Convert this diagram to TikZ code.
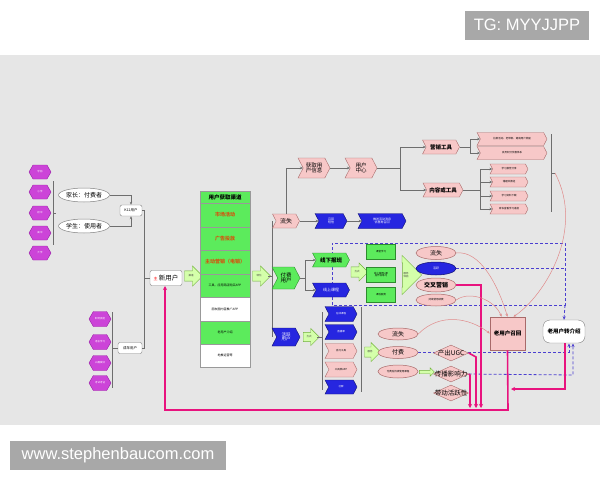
\documentclass[tikz,border=0pt]{standalone}
\usepackage{fontspec}
\setmainfont{Noto Sans CJK SC}
\newfontfamily\wmfont{Liberation Sans}
\usetikzlibrary{shapes.geometric,shapes.symbols,shapes.arrows,arrows.meta}
\pgfdeclarelayer{back}
\pgfdeclarelayer{under}
\pgfsetlayers{back,under,main}
\newcommand\myfs[1]{\fontsize{#1}{#1}\selectfont}
\definecolor{bg}{HTML}{E6E6E6}
\definecolor{mag}{HTML}{CC44D8}
\definecolor{magd}{HTML}{9A1FA6}
\definecolor{pinkf}{HTML}{F7C8C8}
\definecolor{pinkd}{HTML}{A86A6A}
\definecolor{bluef}{HTML}{2626E0}
\definecolor{blued}{HTML}{101070}
\definecolor{greenf}{HTML}{5CEB5C}
\definecolor{greend}{HTML}{2E8B2E}
\definecolor{lgreen}{HTML}{D4FFAA}
\definecolor{lgreend}{HTML}{6FAF3A}
\definecolor{hot}{HTML}{E8137E}
\definecolor{dashc}{HTML}{4B3FD0}
\definecolor{curvec}{HTML}{E08A8A}
\definecolor{oranget}{HTML}{D2560F}
\definecolor{wmgray}{HTML}{A8A8A8}
\definecolor{linec}{HTML}{6E6E6E}
\tikzset{
 hexa/.style={signal, signal to=east and west, signal pointer angle=120, fill=mag, draw=magd, line width=0.4pt, minimum width=22pt, minimum height=14pt, text=white, font=\myfs{2.5}},
 chev/.style={signal, signal from=west, signal to=east, signal pointer angle=125, line width=0.4pt},
 pchev/.style={chev, fill=pinkf, draw=pinkd, text=black},
 bchev/.style={chev, fill=bluef, draw=blued, text=white},
 gchev/.style={chev, fill=greenf, draw=greend, text=black},
 blk/.style={single arrow, fill=lgreen, draw=lgreend, line width=0.4pt, font=\myfs{2.5}, text=darkgray, inner xsep=0pt},
 wbox/.style={rectangle, rounded corners=2pt, draw=gray, fill=white, line width=0.4pt},
 pell/.style={ellipse, draw=pinkd, fill=pinkf, line width=0.5pt, minimum width=40pt, minimum height=13pt},
 wel/.style={ellipse, draw=gray, fill=white, line width=0.5pt, minimum width=48pt, minimum height=14pt, font=\myfs{6}},
 dia/.style={diamond, aspect=2.2, draw=pinkd, fill=pinkf, line width=0.4pt, minimum width=35pt, minimum height=16pt, label={[font=\myfs{6.5}, inner sep=0pt]center:#1}},
 gbox/.style={rectangle, draw=greend, fill=greenf, line width=0.6pt, minimum width=29pt, minimum height=15pt, font=\myfs{2.5}},
 colrow/.style={rectangle, draw=gray!80, line width=0.4pt, minimum width=50pt},
 conn/.style={draw=linec, line width=0.5pt},
 arr/.style={conn, -{Stealth[length=3pt,width=2.5pt]}},
 hotl/.style={draw=hot, line width=1.6pt},
 hota/.style={hotl, -{Stealth[length=4pt,width=4pt]}},
 dashl/.style={draw=dashc, line width=0.8pt, dash pattern=on 3pt off 2pt},
 dasha/.style={dashl, -{Stealth[length=3.5pt,width=3pt]}},
 curvl/.style={draw=curvec, line width=0.5pt, -{Stealth[length=3pt,width=2.5pt]}},
 brk/.style={draw=linec, line width=0.5pt},
}
\begin{document}
\begin{tikzpicture}[x=1pt,y=-1pt, every node/.style={inner sep=0pt, align=center}]
\useasboundingbox (0,0) rectangle (600,480);
\begin{pgfonlayer}{back}
\fill[white] (0,0) rectangle (600,480);
\fill[bg] (0,55) rectangle (600,425);
\end{pgfonlayer}

% watermarks
\node[fill=wmgray, minimum width=124pt, minimum height=29pt, text=white, font=\wmfont\myfs{16.5}] (tg) at (527,25) {TG: MYYJJPP};
\node[fill=wmgray, minimum width=216pt, minimum height=29pt, text=white, font=\wmfont\myfs{16.5}] (www) at (118,455) {www.stephenbaucom.com};

% left top hexagons
\node[hexa] (h1) at (40,172) {学前};
\node[hexa] (h2) at (40,192) {小学};
\node[hexa] (h3) at (40,213) {初中};
\node[hexa] (h4) at (40,233) {高中};
\node[hexa] (h5) at (40,253) {大学};
\draw[brk] (53,181) -- (53,245) (53,213) -- (56,213);

\node[wel] (jz) at (84,195) {家长：付费者};
\node[wel] (xs) at (84,226) {学生：使用者};
\node[wbox, minimum width=22pt, minimum height=11pt, font=\myfs{3.5}] (k12) at (131,210.5) {K12用户};
\draw[arr] (jz.east) -| (k12.north);
\draw[arr] (xs.east) -| (k12.south);

% left bottom hexagons
\node[hexa, minimum height=15pt] (g1) at (100,319) {职场技能};
\node[hexa, minimum height=15pt] (g2) at (100,342) {语言学习};
\node[hexa, minimum height=15pt] (g3) at (100,363) {兴趣爱好};
\node[hexa, minimum height=15pt] (g4) at (100,383) {考试考证};
\node[wbox, minimum width=24pt, minimum height=11pt, font=\myfs{3.5}] (cn) at (130,348) {成年用户};
\draw[brk] (112,312) -- (112,388) (112,348) -- (cn.west);

% new user
\node[wbox, minimum width=32pt, minimum height=15pt, font=\myfs{6.5}] (xyh) at (166,278) {\textcolor{red}{\myfs{4}主}\,新用户};
\coordinate (jn) at (144,278);
\draw[conn] (k12.east) -| (jn);
\draw[conn] (cn.east) -| (jn);
\draw[conn] (jn) -- (xyh.west);

\node[blk, minimum height=18pt, inner ysep=3.7pt, single arrow head extend=5pt] (a1) at (191,276) {渠道};

% channel column
\node[colrow, fill=greenf, minimum height=12pt, font=\myfs{5.5}\bfseries] (c0) at (225,197) {用户获取渠道};
\node[colrow, fill=greenf, minimum height=24pt, font=\myfs{5}\bfseries, text=oranget] (c1) at (225,215) {市场活动};
\node[colrow, fill=greenf, minimum height=23pt, font=\myfs{5}\bfseries, text=oranget] (c2) at (225,238.5) {广告投放};
\node[colrow, fill=greenf, minimum height=24pt, font=\myfs{5}\bfseries, text=oranget] (c3) at (225,262) {主动营销（电销）};
\node[colrow, fill=greenf, minimum height=23pt, font=\myfs{3}] (c4) at (225,285.5) {工具、应用商店购买APP};
\node[colrow, fill=white, minimum height=24pt, font=\myfs{3}] (c5) at (225,309) {朋友圈内容推广APP};
\node[colrow, fill=greenf, minimum height=23pt, font=\myfs{3}] (c6) at (225,332.5) {老用户介绍};
\node[colrow, fill=white, minimum height=23pt, font=\myfs{3}] (c7) at (225,355.5) {地推运营等};

\node[blk, minimum height=18pt, inner ysep=3.7pt, single arrow head extend=5pt] (a2) at (259,276) {转化};
\draw[brk] (272,221) -- (272,337) (268,276) -- (272,276);

% three states
\node[pchev, minimum width=27pt, minimum height=14pt, font=\myfs{6}] (ls1) at (286,221) {流失};
\node[gchev, minimum width=28pt, minimum height=22pt, font=\myfs{5.5}] (ff) at (286,278) {付费\\用户};
\node[bchev, minimum width=28pt, minimum height=18pt, font=\myfs{4.5}] (bu) at (286,337) {活跃\\用户};

% top branch
\node[pchev, minimum width=32pt, minimum height=20pt, font=\myfs{5.5}] (hq) at (314,168) {获取用\\户信息};
\node[pchev, minimum width=32pt, minimum height=20pt, font=\myfs{5.5}] (yh) at (361,168) {用户\\中心};
\draw[arr] (ls1.north) |- (hq.west);
\draw[arr] (hq.east) -- (yh.west);
\node[pchev, minimum width=37pt, minimum height=14pt, font=\myfs{5.5}\bfseries] (yx) at (441,147) {营销工具};
\node[pchev, minimum width=40pt, minimum height=14pt, font=\myfs{5.5}\bfseries] (nr) at (443,190) {内容或工具};
\coordinate (yhj) at (400,168);
\draw[conn] (yh.east) -- (yhj);
\draw[arr] (yhj) |- (yx.west);
\draw[arr] (yhj) |- (nr.west);

\node[pchev, minimum width=70pt, minimum height=13pt, font=\myfs{2.5}] (m1) at (512,139) {拉新活动、老带新、邀请用户奖励};
\node[pchev, minimum width=70pt, minimum height=13pt, font=\myfs{2.5}] (m2) at (512,153) {会员积分优惠体系};
\coordinate (yxj) at (470,147);
\draw[conn] (yx.east) -- (yxj);
\draw[arr] (yxj) |- (m1.west);
\draw[arr] (yxj) |- (m2.west);

\node[pchev, minimum width=38pt, minimum height=10pt, font=\myfs{2.5}] (n1) at (509,169) {学习报告分享};
\node[pchev, minimum width=38pt, minimum height=10pt, font=\myfs{2.5}] (n2) at (509,182) {错题本推送};
\node[pchev, minimum width=38pt, minimum height=10pt, font=\myfs{2.5}] (n3) at (509,196) {学习资料下载};
\node[pchev, minimum width=38pt, minimum height=10pt, font=\myfs{2.5}] (n4) at (509,209) {家长查看学习进度};
\coordinate (nrj) at (480,190);
\draw[conn] (nr.east) -- (nrj);
\draw[arr] (nrj) |- (n1.west);
\draw[arr] (nrj) |- (n2.west);
\draw[arr] (nrj) |- (n3.west);
\draw[arr] (nrj) |- (n4.west);
\draw[brk] (551,134) -- (551,212) (551,173) -- (555,173);
\coordinate (bt) at (555,173);

% blue chevrons after churn
\node[bchev, minimum width=32pt, minimum height=15pt, font=\myfs{3}] (b1) at (331,221) {召回\\短信};
\node[bchev, minimum width=48pt, minimum height=15pt, font=\myfs{3}] (b2) at (382,221) {推送活动消息\\优惠券召回};
\draw[arr] (ls1.east) -- (b1.west);
\draw[arr] (b1.east) -- (b2.west);

% dashed region
\begin{pgfonlayer}{under}
\draw[dashl] (332,305) -- (332,243) -- (565,243) -- (565,305) -- (332,305);
\end{pgfonlayer}

% paying users branch
\node[gchev, minimum width=37pt, minimum height=14pt, font=\myfs{5.5}\bfseries] (xx) at (331,260) {线下报班};
\node[bchev, minimum width=37pt, minimum height=14pt, font=\myfs{4}] (xs2) at (331,290) {线上课程};
\coordinate (ffj) at (305,278);
\draw[conn] (ff.east) -- (ffj);
\draw[arr] (ffj) |- (xx.west);
\draw[arr] (ffj) |- (xs2.west);

\node[blk, minimum height=17pt, inner ysep=3.7pt, single arrow head extend=4pt] (a3) at (357,272) {方式};
\node[gbox] (gb1) at (381,252) {课堂学习};
\node[gbox] (gb2) at (381,274.5) {线上辅导+课\\后作业练习};
\node[gbox] (gb3) at (381,294.5) {课后服务};
\node[blk, minimum height=19pt, inner ysep=9.5pt, single arrow head extend=7.5pt] (a4) at (406,275) {服务\\体验};

\node[pell, font=\myfs{6}] (e1) at (436,253) {流失};
\node[pell, fill=bluef, draw=blued, font=\myfs{3}, text=white] (e2) at (436,268.5) {活跃};
\node[pell, minimum height=14pt, font=\myfs{6}\bfseries] (e3) at (436,285) {交叉营销};
\node[pell, minimum height=12pt, font=\myfs{2.5}] (e4) at (436,300) {持续使用续费};

% retention boxes
\node[rectangle, draw=pinkd, fill=pinkf, line width=0.5pt, minimum width=35pt, minimum height=33pt, font=\myfs{5.5}\bfseries] (zh) at (507.5,333.5) {老用户召回};
\node[wbox, rounded corners=7pt, minimum width=42pt, minimum height=23pt, font=\myfs{5.5}\bfseries] (zz) at (564,331.5) {老用户转介绍};

% lower branch
\node[blk, minimum height=16pt, inner ysep=3.2pt, single arrow head extend=4pt] (a5) at (309,337) {方式};
\draw[brk] (322,312) -- (322,390) (317,337) -- (322,337);
\node[bchev, minimum width=32pt, minimum height=15pt, font=\myfs{2.5}] (l1) at (341,314) {在线课程};
\node[bchev, minimum width=32pt, minimum height=15pt, font=\myfs{2.5}] (l2) at (341,332) {直播课};
\node[pchev, minimum width=32pt, minimum height=15pt, font=\myfs{2.5}] (l3) at (341,351) {自习工具};
\node[pchev, minimum width=32pt, minimum height=15pt, font=\myfs{2.5}] (l4) at (341,369.5) {工具类APP};
\node[bchev, minimum width=32pt, minimum height=14pt, font=\myfs{2.5}] (l5) at (341,387) {社群};
\draw[brk] (361,307) -- (361,392) (361,352) -- (362,352);
\node[blk, minimum height=16pt, inner ysep=3.7pt, single arrow head extend=4.5pt] (a6) at (370,352) {服务};

\node[pell, minimum height=12pt, font=\myfs{6}] (ls2) at (398,334) {流失};
\node[pell, minimum height=12pt, font=\myfs{6}] (fu) at (398,352.5) {付费};
\node[pell, minimum height=13pt, font=\myfs{2.5}] (ex) at (398,371.5) {付费后持续使用课程};
\node[blk, minimum height=15pt, inner ysep=1.5pt, single arrow head extend=2.5pt] (a7) at (426,372) {};

\node[dia=产出UGC] (ugc) at (451,353) {};
\node[dia=传播影响力] (cb) at (451,374) {};
\node[dia=带动活跃性] (dd) at (451,393) {};

% dashed connectors
\begin{pgfonlayer}{under}
\draw[dashl] (e2.east) -- (565,268.5);
\draw[dasha] (565,305) -- (zz.north);
\draw[dasha] (fu.east) -- (569,352.5) -- (569,343.5);
\draw[dasha] (cb.east) -- (573,375) -- (573,343.5);
\end{pgfonlayer}

% magenta connectors
\draw[hota] (e3.east) -- (481,285) -- (481,408);
\draw[hota] (ugc.east) -- (476,357) -- (476,408);
\draw[hota] (cb.east) -- (470,375) -- (470,408);
\draw[hota] (565,343) -- (565,389) -- (511,389);
\draw[hota] (zh.south) -- (508,410) -- (165,410) -- (165,286);

% thin curves
\draw[curvl] (e1.east) .. controls (480,250) and (498,285) .. (zh.north);
\draw[curvl] (e4.east) .. controls (470,290) and (495,300) .. ([xshift=-6pt]zh.north);
\draw[curvl] (bt) .. controls (585,230) and (545,295) .. ([xshift=6pt]zh.north);
\draw[curvl] (ls2.east) .. controls (440,312) and (470,318) .. (zh.west);
\end{tikzpicture}
\end{document}
